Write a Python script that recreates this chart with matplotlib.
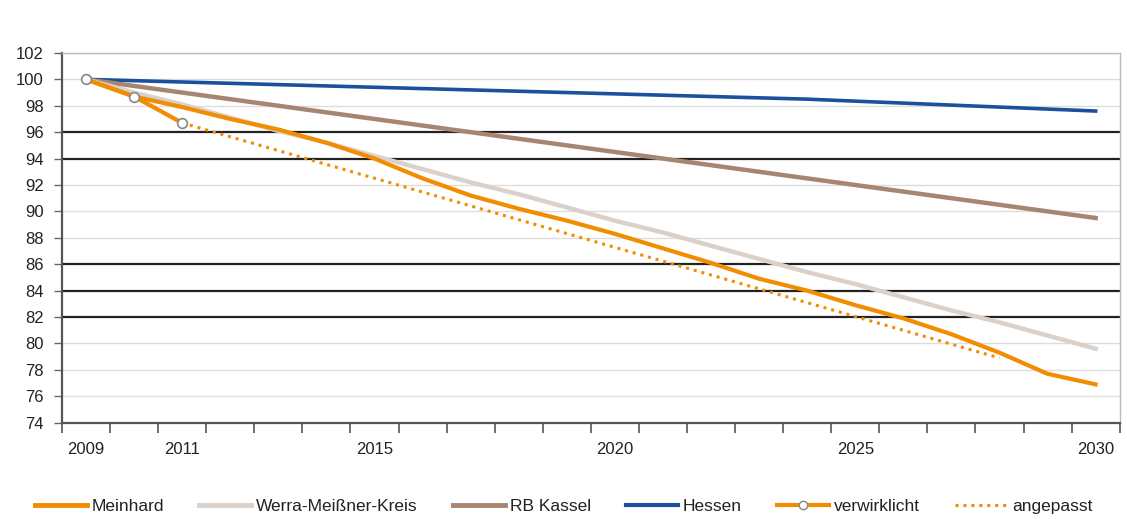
import numpy as np
import matplotlib
matplotlib.use('Agg')
from matplotlib import pyplot as plt
from matplotlib.lines import Line2D

plt.rcParams['font.family'] = ['Liberation Sans', 'DejaVu Sans']

# data
years = list(range(2009, 2031))
meinhard = [100, 98.7, 97.9, 97.0, 96.2, 95.2, 94.0, 92.5, 91.2, 90.2, 89.3,
            88.3, 87.2, 86.1, 84.9, 84.0, 82.9, 81.9, 80.7, 79.3, 77.7, 76.9]
werra = [100, 99.0, 98.1, 97.1, 96.1, 95.2, 94.2, 93.2, 92.2, 91.3, 90.3,
         89.3, 88.4, 87.4, 86.4, 85.4, 84.5, 83.5, 82.5, 81.6, 80.6, 79.6]
rb_kassel = [100, 99.5, 99.0, 98.5, 98.0, 97.5, 97.0, 96.5, 96.0, 95.5, 95.0,
             94.5, 94.0, 93.5, 93.0, 92.5, 92.0, 91.5, 91.0, 90.5, 90.0, 89.5]
hessen = [100, 99.9, 99.8, 99.7, 99.6, 99.5, 99.4, 99.3, 99.2, 99.1, 99.0,
          98.9, 98.8, 98.7, 98.6, 98.5, 98.35, 98.2, 98.05, 97.9, 97.75, 97.6]
real_years = [2009, 2010, 2011]
verwirklicht = [100, 98.7, 96.7]
adj_years = [2011, 2028]
angepasst = [96.7, 78.9]

x_labels = [2009, 2011, 2015, 2020, 2025, 2030]
y_ticks = list(range(74, 103, 2))
dark_grid = [96, 94, 86, 84, 82]

ORANGE = '#F28C00'
GREY = '#DAD1CB'
BROWN = '#A68571'
BLUE = '#1B509E'

fig = plt.figure(figsize=(11.27, 5.19), dpi=100)
ax = fig.add_axes([0.055, 0.1856, 0.9385, 0.7124])

for v in y_ticks:
    if v in dark_grid:
        ax.axhline(v, color='#222222', lw=1.6, zorder=1)
    else:
        ax.axhline(v, color='#DDDDDD', lw=1.0, zorder=1)

ax.plot(years, hessen, color=BLUE, lw=2.6, zorder=3)
ax.plot(years, rb_kassel, color=BROWN, lw=3.2, zorder=3)
ax.plot(years, werra, color=GREY, lw=3.2, zorder=3)
ax.plot(years, meinhard, color=ORANGE, lw=3.0, zorder=4)
ax.plot(adj_years, angepasst, color=ORANGE, lw=2.2, ls=(0, (1, 1.6)), zorder=4)
ax.plot(real_years, verwirklicht, color=ORANGE, lw=3.0, marker='o', ms=7,
        mfc='white', mec='#888888', mew=1.2, zorder=5)

ax.set_xlim(2008.5, 2030.5)
ax.set_ylim(74, 102)
ax.set_yticks(y_ticks)
ax.set_xticks(x_labels)
ax.set_xticks(np.arange(2008.5, 2031, 1), minor=True)
ax.tick_params(axis='x', which='major', length=0, pad=14, labelsize=12, labelcolor='#222222')
ax.tick_params(axis='x', which='minor', length=7, width=1.2, color='#555555')
ax.tick_params(axis='y', length=6, width=1.0, color='#666666', pad=7, labelsize=12,
               labelcolor='#222222')

for s in ['left', 'bottom']:
    ax.spines[s].set_color('#555555')
    ax.spines[s].set_linewidth(1.6)
for s in ['top', 'right']:
    ax.spines[s].set_color('#BBBBBB')
    ax.spines[s].set_linewidth(1.0)

handles = [
    Line2D([], [], color=ORANGE, lw=3.5),
    Line2D([], [], color=GREY, lw=3.5),
    Line2D([], [], color=BROWN, lw=3.5),
    Line2D([], [], color=BLUE, lw=3.0),
    Line2D([], [], color=ORANGE, lw=3.0, marker='o', ms=6, mfc='white', mec='#888888'),
    Line2D([], [], color=ORANGE, lw=2.2, ls=(0, (1, 1.6))),
]
names = ['Meinhard', 'Werra-Meißner-Kreis', 'RB Kassel', 'Hessen', 'verwirklicht', 'angepasst']
fig.legend(handles, names, loc='lower center', bbox_to_anchor=(0.5, -0.02), ncol=6,
           frameon=False, fontsize=12.5, handlelength=3.0, handletextpad=0.3,
           columnspacing=2.0, labelcolor='#222222')

fig.savefig('out.png', dpi=100, facecolor='white')
